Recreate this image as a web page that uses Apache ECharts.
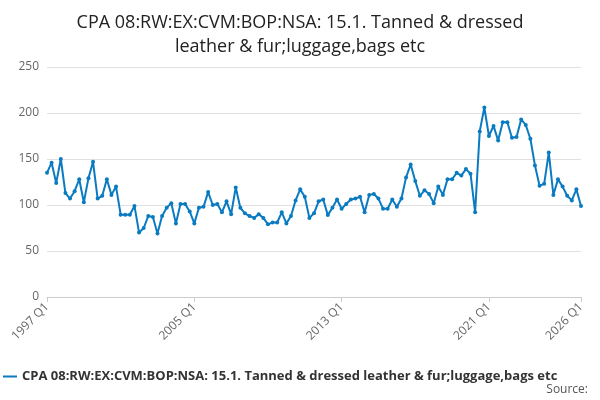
<!DOCTYPE html>
<html>
<head>
<meta charset="utf-8">
<script src="https://cdn.jsdelivr.net/npm/echarts@6/dist/echarts.min.js"></script>
<style>html,body{margin:0;padding:0;background:#fff}#chart{width:600px;height:400px}</style>
</head>
<body>
<div id="chart"></div>
<script>
var seriesName = 'CPA 08:RW:EX:CVM:BOP:NSA: 15.1. Tanned & dressed leather & fur;luggage,bags etc';
var startYear = 1997;
var values = [
	135,146,124,150,113,107,115,128,103,129,147,107,110,128,111,120,89.5,89.5,89.5,99,
	70,75,88,87,69,88,97,102,80,101,101,93,80,97,98,114,100,101,92,104,
	90,119,97,91,88,86,90,86,79,81,81,92,80,88,105,117,109,86,91,104,
	106,89,97,106,96,101,106,107,109,92,111,112,107,96,96,106,98,107,130,144,
	126,110,116,112,102,120,111,128,128,135,132,139,134,92,180,206,175,186,170,190,
	190,173,174,193,187,172,143,121,123,157,111,128,120,110,105,117,99
];
var categories = [];
for (var i = 0; i < values.length; i++) {
	categories.push((startYear + Math.floor(i / 4)) + ' Q' + (i % 4 + 1));
}
var lastIdx = values.length - 1;
function showLabel(i){ return i % 32 === 0 || i === lastIdx; }

var chart = echarts.init(document.getElementById('chart'));
chart.setOption({
	animation: false,
	title: {
		text: 'CPA 08:RW:EX:CVM:BOP:NSA: 15.1. Tanned & dressed\nleather & fur;luggage,bags etc',
		left: 'center', top: 6,
		textStyle: {fontFamily: 'Open Sans', fontSize: 18, fontWeight: 'normal', color: '#222', lineHeight: 24}
	},
	grid: {left: 47, right: 19, top: 67, bottom: 103},
	xAxis: {
		type: 'category', data: categories, boundaryGap: false,
		axisLine: {lineStyle: {color: '#ccc'}},
		axisTick: {interval: showLabel, lineStyle: {color: '#ccc'}},
		axisLabel: {interval: showLabel, rotate: 45, color: '#666', fontFamily: 'Open Sans', fontSize: 12}
	},
	yAxis: {
		type: 'value', min: 0, max: 250, interval: 50,
		axisLabel: {color: '#666', fontFamily: 'Open Sans', fontSize: 12},
		splitLine: {lineStyle: {color: '#e0e0e0'}}
	},
	legend: {
		left: -2, top: 365, itemWidth: 14, itemHeight: 2,
		textStyle: {fontFamily: 'Open Sans', fontSize: 13, color: '#333', fontWeight: 'bold'},
		data: [{name: seriesName, icon: 'rect'}]
	},
	graphic: [{type: 'text', right: 12, top: 384, style: {text: 'Source:', fill: '#555', font: '12px Open Sans'}}],
	series: [{
		name: seriesName, type: 'line', data: values,
		symbol: 'circle', symbolSize: 4, showAllSymbol: true,
		itemStyle: {color: '#0a7bc1'},
		lineStyle: {width: 2, color: '#0a7bc1'}
	}]
});
</script>
</body>
</html>
